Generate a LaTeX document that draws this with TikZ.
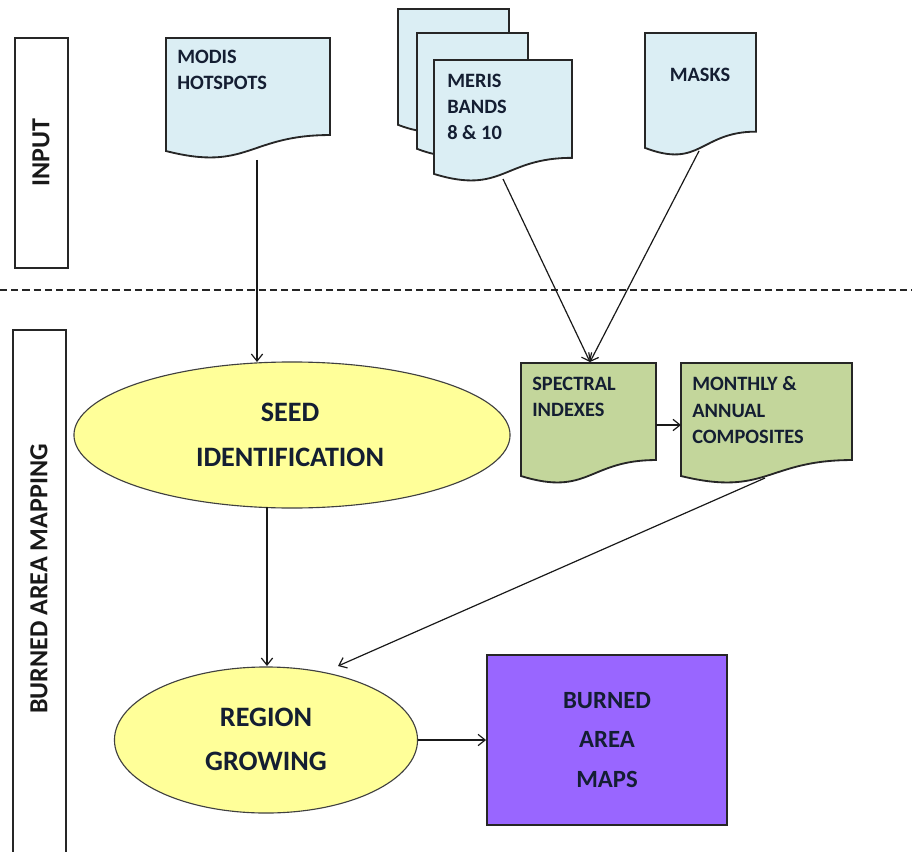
\documentclass[tikz,border=0pt]{standalone}
\usepackage{fontspec}
\setmainfont{Carlito}
\usetikzlibrary{arrows.meta,shapes.geometric}
\definecolor{docblue}{HTML}{DBEEF4}
\definecolor{docgreen}{HTML}{C3D69B}
\definecolor{seedyellow}{HTML}{FFFF99}
\definecolor{mapviolet}{HTML}{9966FF}
\definecolor{labelink}{HTML}{141E32}
\newcommand{\docshape}[5]{%
  \filldraw[docline, fill=#1] (#2,#3) -- (#4,#3) -- (#4,{#3+0.802*#5})
    .. controls ({(#2+#4)/2},{#3+0.802*#5}) and ({(#2+#4)/2},{#3+1.1075*#5}) ..
    (#2,{#3+0.934*#5}) -- cycle;}
\tikzset{
  docline/.style={draw=black!85, line width=1.3pt},
  smalltxt/.style={font=\bfseries\fontsize{14.5}{18.6}\selectfont, text=labelink, inner sep=0pt, align=left, anchor=north west},
  bigtxt/.style={font=\bfseries\fontsize{20}{31.5}\selectfont, text=labelink, align=center},
  sidetxt/.style={font=\bfseries\fontsize{18.5}{22}\selectfont, text=black!90, rotate=90},
  process/.style={ellipse, draw=black!75, line width=0.8pt, fill=seedyellow, inner sep=0pt},
  conn/.style={draw=black!90, line width=0.85pt, -{Straight Barb[length=5pt,width=8pt]}},
  framebox/.style={draw=black!85, line width=1.6pt}
}
\begin{document}
\begin{tikzpicture}[x=0.025cm, y=-0.025cm]
\useasboundingbox (0,0) rectangle (912,852);
% side frames
\draw[framebox] (15,38) rectangle (68,268);
\node[sidetxt] (inputlbl) at (41,153) {INPUT};
\draw[framebox] (13,852) -- (13,330) -- (66,330) -- (66,852);
\node[sidetxt] (bamlbl) at (39,579) {BURNED AREA MAPPING};
% separator
\draw[black!85, line width=1.1pt, dash pattern=on 5pt off 3pt] (0,290) -- (912,290);
% input documents
\docshape{docblue}{166}{38}{330}{121}
\node[smalltxt] (modis) at (177,50) {MODIS\\HOTSPOTS};
\docshape{docblue}{398}{9}{509}{124}
\docshape{docblue}{417}{33}{528}{124}
\docshape{docblue}{434}{60}{572}{122}
\node[smalltxt] (meris) at (447,73.5) {MERIS\\BANDS\\8 \& 10};
\docshape{docblue}{645}{33}{756}{123}
\node[smalltxt, anchor=center] (masks) at (700,75) {MASKS};
% processing documents
\docshape{docgreen}{521}{363}{656}{121}
\node[smalltxt] (spectral) at (532,376.5) {SPECTRAL\\INDEXES};
\docshape{docgreen}{681}{363}{852}{121}
\node[smalltxt] (monthly) at (692,376.5) {MONTHLY \&\\ANNUAL\\COMPOSITES};
% process ellipses
\node[process, minimum width=10.9cm, minimum height=3.65cm] (seed) at (292,435) {};
\node[bigtxt] (seedtxt) at (290,435) {SEED\\IDENTIFICATION};
\node[process, minimum width=7.575cm, minimum height=3.65cm] (region) at (266,740) {};
\node[bigtxt] (regiontxt) at (266,739.5) {REGION\\GROWING};
% output
\node[draw=black!85, line width=1.3pt, fill=mapviolet, minimum width=6cm, minimum height=4.25cm,
      font=\bfseries\fontsize{17.6}{28.4}\selectfont, text=labelink, align=center] (maps) at (607,740) {BURNED\\AREA\\MAPS};
% connector end points
\coordinate (modisB) at (257,160);
\coordinate (seedT) at (257,362);
\coordinate (merisB) at (503,179);
\coordinate (masksB) at (699,151);
\coordinate (specT) at (590,362);
\coordinate (specR) at (656,425);
\coordinate (monL) at (681,425);
\coordinate (monB) at (765,478);
\coordinate (regT) at (338,666);
\coordinate (seedB) at (267,507);
\coordinate (regN) at (267,666);
% connectors
\draw[conn] (modisB) -- (seedT);
\draw[conn] (merisB) -- (specT);
\draw[conn] (masksB) -- (specT);
\draw[conn] (specR) -- (monL);
\draw[conn] (monB) -- (regT);
\draw[conn] (seedB) -- (regN);
\draw[conn] (region.east) -- (maps.west);
\end{tikzpicture}
\end{document}
